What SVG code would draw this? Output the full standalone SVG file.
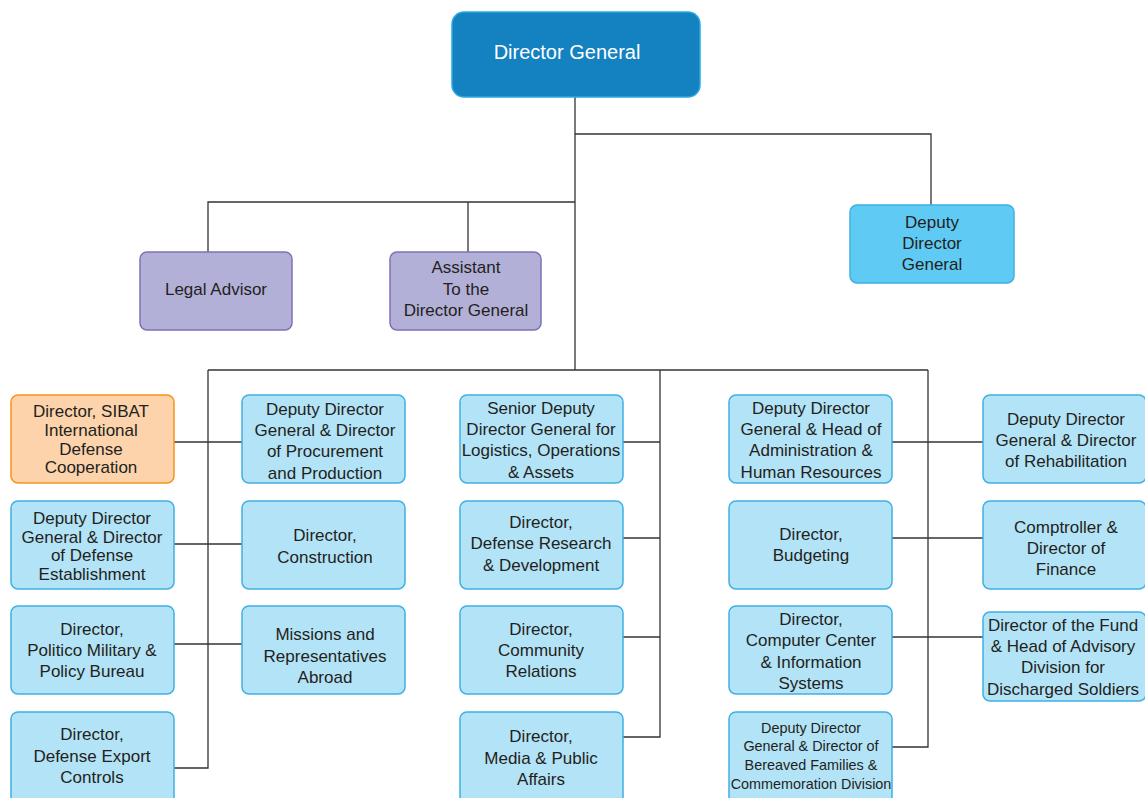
<svg xmlns="http://www.w3.org/2000/svg" width="1145" height="798" viewBox="0 0 1145 798">
<style>
text{font-family:"Liberation Sans",Arial,sans-serif;font-size:17px;fill:#231f20;text-anchor:middle;dominant-baseline:central}
.box{fill:#b3e3f7;stroke:#3fb0e4;stroke-width:1.5}
.dg{fill:#1481c1;stroke:#29abe2;stroke-width:1.5}
.ddg{fill:#5fcaf3;stroke:#3fb0e4;stroke-width:1.5}
.pur{fill:#b3b0d8;stroke:#7d72b8;stroke-width:1.5}
.org{fill:#fcd3ab;stroke:#f7931e;stroke-width:1.5}
.dgt{fill:#ffffff;font-size:20px}
.sm{font-size:14.4px}
#connectors path{fill:none;stroke:#333333;stroke-width:1.3}
</style>
<rect width="1145" height="798" fill="#ffffff"/>
<g id="connectors">
<path d="M575,97 V370"/>
<path d="M575,134 H931 V205"/>
<path d="M575,202 H208 V252"/>
<path d="M468,202 V252"/>
<path d="M208,370 H928"/>
<path d="M208,370 V768 H174"/>
<path d="M660,370 V737 H623"/>
<path d="M928,370 V747 H892"/>
<path d="M174,442 H242"/>
<path d="M174,544 H242"/>
<path d="M174,644 H242"/>
<path d="M623,442 H660"/>
<path d="M623,538 H660"/>
<path d="M623,637 H660"/>
<path d="M892,442 H983"/>
<path d="M892,538 H983"/>
<path d="M892,637 H983"/>
</g>
<g id="director-general"><rect class="dg" x="452" y="12" width="248" height="85" rx="12"/><text class="dgt" x="567" y="52">Director General</text></g>
<g id="deputy-director-general"><rect class="ddg" x="850" y="205" width="164" height="78" rx="7"/><text x="932" y="222">Deputy</text><text x="932" y="243">Director</text><text x="932" y="264">General</text></g>
<g id="legal-advisor"><rect class="pur" x="140" y="252" width="152" height="78" rx="7"/><text x="216" y="289">Legal Advisor</text></g>
<g id="assistant"><rect class="pur" x="390" y="252" width="151" height="78" rx="7"/><text x="466" y="267">Assistant</text><text x="466" y="289">To the</text><text x="466" y="310">Director General</text></g>

<g id="sibat"><rect class="org" x="11" y="395" width="163" height="88" rx="7"/><text x="91" y="411">Director, SIBAT</text><text x="91" y="430">International</text><text x="91" y="449">Defense</text><text x="91" y="467">Cooperation</text></g>
<g id="defense-establishment"><rect class="box" x="11" y="501" width="163" height="88" rx="7"/><text x="92" y="518">Deputy Director</text><text x="92" y="537">General &amp; Director</text><text x="92" y="555">of Defense</text><text x="92" y="574">Establishment</text></g>
<g id="politico-military"><rect class="box" x="11" y="606" width="163" height="88" rx="7"/><text x="92" y="629">Director,</text><text x="92" y="650">Politico Military &amp;</text><text x="92" y="671">Policy Bureau</text></g>
<g id="defense-export"><rect class="box" x="11" y="712" width="163" height="92" rx="7"/><text x="92" y="734">Director,</text><text x="92" y="756">Defense Export</text><text x="92" y="777">Controls</text></g>

<g id="procurement"><rect class="box" x="242" y="395" width="163" height="88" rx="7"/><text x="325" y="409">Deputy Director</text><text x="325" y="430">General &amp; Director</text><text x="325" y="451">of Procurement</text><text x="325" y="473">and Production</text></g>
<g id="construction"><rect class="box" x="242" y="501" width="163" height="88" rx="7"/><text x="325" y="535">Director,</text><text x="325" y="557">Construction</text></g>
<g id="missions"><rect class="box" x="242" y="606" width="163" height="88" rx="7"/><text x="325" y="634">Missions and</text><text x="325" y="656">Representatives</text><text x="325" y="677">Abroad</text></g>

<g id="logistics"><rect class="box" x="460" y="395" width="163" height="88" rx="7"/><text x="541" y="408">Senior Deputy</text><text x="541" y="429">Director General for</text><text x="541" y="450">Logistics, Operations</text><text x="541" y="472">&amp; Assets</text></g>
<g id="research"><rect class="box" x="460" y="501" width="163" height="88" rx="7"/><text x="541" y="522">Director,</text><text x="541" y="543">Defense Research</text><text x="541" y="565">&amp; Development</text></g>
<g id="community"><rect class="box" x="460" y="606" width="163" height="88" rx="7"/><text x="541" y="629">Director,</text><text x="541" y="650">Community</text><text x="541" y="671">Relations</text></g>
<g id="media"><rect class="box" x="460" y="712" width="163" height="92" rx="7"/><text x="541" y="736">Director,</text><text x="541" y="758">Media &amp; Public</text><text x="541" y="779">Affairs</text></g>

<g id="administration"><rect class="box" x="729" y="395" width="163" height="88" rx="7"/><text x="811" y="408">Deputy Director</text><text x="811" y="429">General &amp; Head of</text><text x="811" y="450">Administration &amp;</text><text x="811" y="472">Human Resources</text></g>
<g id="budgeting"><rect class="box" x="729" y="501" width="163" height="88" rx="7"/><text x="811" y="534">Director,</text><text x="811" y="555">Budgeting</text></g>
<g id="computer"><rect class="box" x="729" y="606" width="163" height="88" rx="7"/><text x="811" y="619">Director,</text><text x="811" y="640">Computer Center</text><text x="811" y="662">&amp; Information</text><text x="811" y="683">Systems</text></g>
<g id="bereaved"><rect class="box" x="729" y="712" width="163" height="92" rx="7"/><text class="sm" x="811" y="728">Deputy Director</text><text class="sm" x="811" y="746">General &amp; Director of</text><text class="sm" x="811" y="765">Bereaved Families &amp;</text><text class="sm" x="811" y="784">Commemoration Division</text></g>

<g id="rehabilitation"><rect class="box" x="983" y="395" width="163" height="88" rx="7"/><text x="1066" y="419">Deputy Director</text><text x="1066" y="440">General &amp; Director</text><text x="1066" y="461">of Rehabilitation</text></g>
<g id="comptroller"><rect class="box" x="983" y="501" width="163" height="88" rx="7"/><text x="1066" y="527">Comptroller &amp;</text><text x="1066" y="548">Director of</text><text x="1066" y="569">Finance</text></g>
<g id="fund"><rect class="box" x="983" y="612" width="163" height="89" rx="7"/><text x="1063" y="625">Director of the Fund</text><text x="1063" y="646">&amp; Head of Advisory</text><text x="1063" y="667">Division for</text><text x="1063" y="689">Discharged Soldiers</text></g>
</svg>
